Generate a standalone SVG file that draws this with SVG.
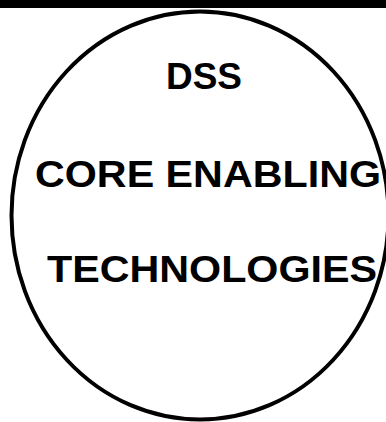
<svg xmlns="http://www.w3.org/2000/svg" width="386" height="422" viewBox="0 0 386 422">
<style>
.t{font-family:"Liberation Sans",Arial,sans-serif;font-weight:bold;font-size:37px;fill:#000}
</style>
<rect x="0" y="0" width="386" height="422" fill="#fff"/>
<rect x="0" y="0" width="386" height="8" fill="#000"/>
<g id="node-dss">
<ellipse cx="200" cy="215.5" rx="188.5" ry="204" fill="none" stroke="#000" stroke-width="4"/>
<text class="t" x="166" y="89" textLength="76" lengthAdjust="spacingAndGlyphs">DSS</text>
<text class="t" x="35" y="187" textLength="346" lengthAdjust="spacingAndGlyphs">CORE ENABLING</text>
<text class="t" x="47" y="282" textLength="330" lengthAdjust="spacingAndGlyphs">TECHNOLOGIES</text>
</g>
<g id="connectors"></g>
</svg>
